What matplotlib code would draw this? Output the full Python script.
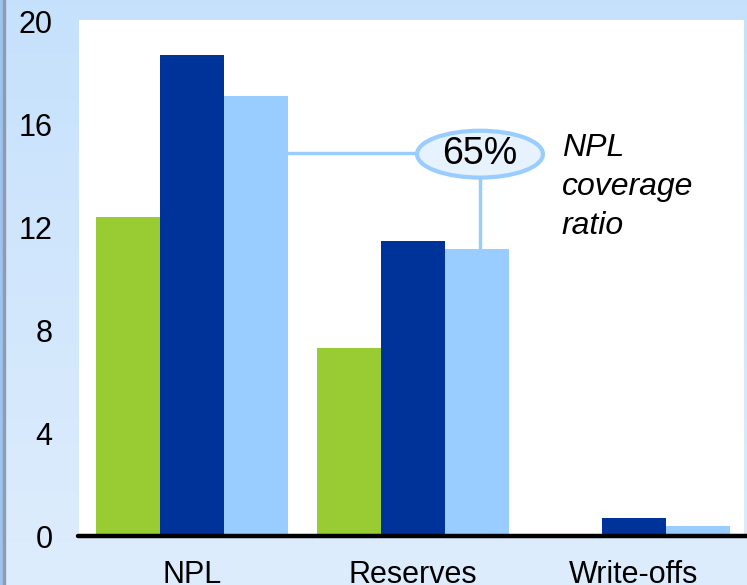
import matplotlib
matplotlib.use("Agg")
import matplotlib.pyplot as plt
import numpy as np
from matplotlib.patches import Ellipse

plt.rcParams['font.family'] = ['Liberation Sans', 'DejaVu Sans']

# data
categories = ["NPL", "Reserves", "Write-offs"]
series_green = [12.4, 7.3, 0.0]
series_dark = [18.7, 11.45, 0.7]
series_light = [17.1, 11.15, 0.38]
yticks = [0, 4, 8, 12, 16, 20]
coverage_label = "65%"
coverage_text = "NPL\ncoverage\nratio"

colors = ["#99CC33", "#003399", "#99CCFF"]

W, H = 747, 585
fig = plt.figure(figsize=(W / 100, H / 100), dpi=100)

# background gradient of the frame
bg = fig.add_axes([0, 0, 1, 1])
grad = np.linspace(0, 1, 256).reshape(-1, 1)
top = np.array([0.776, 0.882, 0.988])
bot = np.array([0.870, 0.929, 0.992])
img = top + (bot - top) * grad[:, :, None]
bg.imshow(img, aspect="auto", extent=[0, 1, 0, 1], origin="upper")
bg.set_xlim(0, 1)
bg.set_ylim(0, 1)
bg.axis("off")
# left border
bg.axvspan(0, 3 / W, color="#9DC3EE")
bg.axvspan(3 / W, 5 / W, color="#8C9DB0")

ax = fig.add_axes([79 / W, 49 / H, 665 / W, 516 / H])
ax.set_facecolor("white")

x = np.arange(len(categories))
bw = 0.29
ax.bar(x - bw, series_green, bw, color=colors[0])
ax.bar(x, series_dark, bw, color=colors[1])
ax.bar(x + bw, series_light, bw, color=colors[2])

ax.set_xlim(-0.51, 2.5)
ax.set_ylim(0, 20.04)

for s in ax.spines.values():
    s.set_visible(False)
ax.axhline(0, xmin=-0.002, xmax=1.0045, color="black", lw=3.2,
           solid_capstyle="round", clip_on=False, zorder=5)

ax.set_yticks(yticks)
ax.set_yticklabels([str(v) for v in yticks], fontsize=22)
ax.set_xticks(x)
ax.set_xticklabels(categories, fontsize=22)
ax.tick_params(axis="y", length=0, pad=19)
ax.tick_params(axis="x", length=0, pad=17.5)

# coverage ratio callout
ex, ey = 1.305, 14.83
ax.plot([x[0] + 1.5 * bw, ex], [14.87, 14.87], color=colors[2], lw=2.5, zorder=2)
ax.plot([ex, ex], [ey, series_light[1]], color=colors[2], lw=2.5, zorder=2)
ax.add_patch(Ellipse((ex, ey), 0.57, 1.82, facecolor="#E6F2FE",
                     edgecolor=colors[2], lw=3, zorder=3))
ax.text(ex, ey, coverage_label, fontsize=27, ha="center", va="center", zorder=4)
ax.text(1.676, 13.55, coverage_text, fontsize=23, style="italic",
        ha="left", va="center", linespacing=1.38)

fig.savefig("out.png", dpi=100)
